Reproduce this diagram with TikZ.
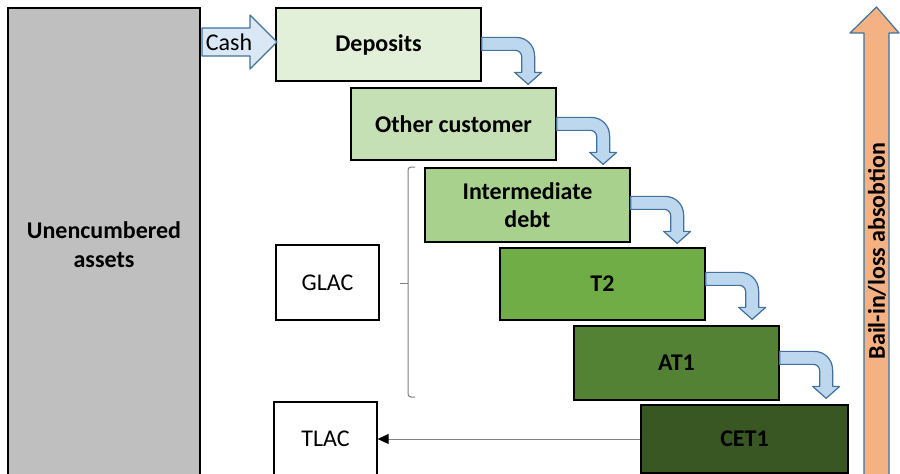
\documentclass[tikz,border=0pt]{standalone}
\usepackage{fontspec}
\setmainfont{Carlito}
\usetikzlibrary{arrows.meta,calc}
\definecolor{grayfill}{HTML}{BFBFBF}
\definecolor{depfill}{HTML}{E2F0D9}
\definecolor{custfill}{HTML}{C5E0B4}
\definecolor{intfill}{HTML}{A9D18E}
\definecolor{ttwofill}{HTML}{70AD47}
\definecolor{atfill}{HTML}{548235}
\definecolor{cetfill}{HTML}{385723}
\definecolor{arrfill}{HTML}{BDD7EE}
\definecolor{cashfill}{HTML}{DAE8F6}
\definecolor{arrline}{HTML}{41719C}
\definecolor{bailfill}{HTML}{F4B183}
\definecolor{bracecol}{HTML}{808080}
\tikzset{
  layer/.style={draw=black, line width=1.3pt, minimum width=205pt, align=center,
    font=\bfseries\fontsize{24}{28}\selectfont, inner sep=0pt},
  capbox/.style={draw=black, line width=1.3pt, minimum width=103pt, minimum height=75pt,
    font=\fontsize{24}{28}\selectfont, inner sep=0pt},
  bentarr/.style={draw=arrline, fill=arrfill, line width=1.2pt, line join=round},
}
\newcommand\bentarrow[2]{%
  \begin{scope}[shift={(#1.north east)}]
    \filldraw[bentarr] (0,#2) -- (34,#2) .. controls (45,#2) and (53,#2+8) .. (53,#2+19)
      -- (53,#2+35) -- (60,#2+35) -- (46.5,#2+47) -- (33,#2+35) -- (40,#2+35) -- (40,#2+19)
      .. controls (40,#2+16) and (37,#2+13) .. (34,#2+13) -- (0,#2+13) -- cycle;
  \end{scope}}
\begin{document}
\begin{tikzpicture}[x=1pt,y=-1pt]
\clip (0,0) rectangle (900,474);
\fill[white] (0,0) rectangle (900,474);
% unencumbered assets
\node[layer, fill=grayfill, minimum width=192pt, minimum height=474pt,
  font=\bfseries\fontsize{24}{29}\selectfont] (ua) at (104,245) {Unencumbered\\assets};
% layers
\node[layer, fill=depfill, minimum height=73pt] (dep) at (378.5,44.5) {Deposits};
\node[layer, fill=custfill, minimum height=72pt] (cust) at (453.5,124) {Other customer};
\node[layer, fill=intfill, minimum height=74pt] (int) at (527.5,205) {Intermediate\\debt};
\node[layer, fill=ttwofill, minimum height=72pt] (t2) at (602.5,284) {T2};
\node[layer, fill=atfill, minimum height=74pt] (at1) at (676.5,363) {AT1};
\node[layer, fill=cetfill, minimum width=207pt, minimum height=68pt] (cet) at (744.5,439) {CET1};
% cash arrow
\filldraw[draw=arrline, fill=cashfill, line width=1.2pt, line join=round]
  (202,28) -- (250,28) -- (250,15) -- (277,42) -- (250,69) -- (250,56) -- (202,56) -- cycle;
\node[font=\fontsize{24}{28}\selectfont, inner sep=0pt] (cash) at (229,42) {Cash};
% bent arrows
\bentarrow{dep}{30}
\bentarrow{cust}{30}
\bentarrow{int}{29}
\bentarrow{t2}{25}
\bentarrow{at1}{26}
% capacity boxes
\node[capbox] (glac) at (327.5,282.5) {GLAC};
\node[capbox, minimum height=74pt] (tlac) at (325.5,439) {TLAC};
% brace
\draw[bracecol, line width=1pt, rounded corners=3pt] (415,167) -| (408,397) -- (415,397);
\coordinate (bracetip) at (400,283);
\draw[bracecol, line width=1pt] (408,283) -- (bracetip);
% TLAC arrow
\draw[bracecol, line width=1pt, -{Triangle[length=11pt,width=10pt,color=black]}] (cet.west) -- (tlac.east);
% bail-in arrow
\filldraw[draw=arrline, fill=bailfill, line width=1.2pt, line join=round]
  (864,480) -- (864,33) -- (850,33) -- (876.5,7) -- (899,33) -- (889,33) -- (889,480) -- cycle;
\node[rotate=90, font=\bfseries\fontsize{24}{28}\selectfont, inner sep=0pt] (bail) at (877,251) {Bail-in/loss absobtion};
\end{tikzpicture}
\end{document}
